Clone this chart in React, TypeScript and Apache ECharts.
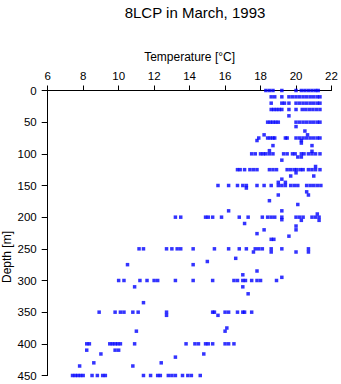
import React, { useEffect, useRef } from "react";
import * as echarts from "echarts";

const xTicks = [6, 8, 10, 12, 14, 16, 18, 20, 22];
const yTicks = [0, 50, 100, 150, 200, 250, 300, 350, 400, 450];

// temperatures observed at the standard depths (m)
const t0 = [18.3, 18.5, 18.7, 19.2, 20.0, 20.3, 20.5, 20.7, 20.9, 21.1, 21.25];
const t10 = [18.6, 18.8, 19.2, 19.6, 19.8, 20.0, 20.2, 20.4, 20.6, 20.8, 21.0, 21.2, 21.35];
const t20 = [18.6, 19.2, 19.35, 19.6, 20.0, 20.2, 20.4, 20.6, 20.8, 21.0, 21.2, 21.35];
const t30 = [18.6, 18.75, 18.9, 19.05, 19.2, 19.6, 20.0, 20.35, 20.55, 20.75, 20.95, 21.15, 21.35];
const t50 = [18.4, 18.55, 18.7, 18.85, 19.0, 20.0, 20.2, 20.4, 20.6, 20.8, 21.0, 21.2, 21.35];
const t75 = [17.9, 18.4, 18.55, 18.7, 18.8, 19.4, 19.5, 20.0, 20.2, 20.4, 20.6, 20.8, 21.0, 21.2, 21.35];
const t100 = [17.5, 17.7, 18.0, 18.15, 18.3, 18.5, 18.7, 19.3, 19.5, 19.8, 19.95, 20.3, 20.45, 20.7, 20.9, 21.1, 21.35];
const t125 = [16.7, 16.85, 17.1, 17.4, 17.6, 17.8, 18.5, 18.7, 18.9, 19.5, 19.7, 19.9, 20.05, 20.25, 20.4, 20.7, 20.9, 21.1, 21.35];
const t150 = [15.6, 16.2, 16.7, 17.0, 17.2, 17.8, 18.2, 18.6, 19.0, 19.2, 19.4, 19.7, 19.9, 20.1, 20.6, 20.8, 21.0, 21.2, 21.4];
const t200 = [13.2, 13.5, 14.9, 15.05, 15.3, 15.8, 16.8, 17.3, 18.1, 18.4, 18.6, 18.8, 19.2, 20.0, 20.2, 20.4, 20.9, 21.1, 21.3];
const t250 = [11.15, 11.4, 12.7, 13.0, 13.3, 13.5, 14.2, 15.4, 16.2, 16.8, 17.2, 17.7, 17.9, 18.1, 18.6, 19.2, 20.7];
const t300 = [10.0, 10.3, 11.2, 11.6, 12.0, 12.2, 13.2, 14.2, 15.3, 16.5, 16.7, 17.0, 17.15, 17.5, 17.8, 18.0, 18.9];
const t350 = [8.9, 9.8, 10.1, 10.3, 10.8, 11.1, 12.7, 15.3, 15.4, 16.0, 16.2, 16.7, 17.0, 17.1, 17.5];
const t400 = [8.2, 8.35, 9.5, 9.65, 9.8, 9.95, 10.1, 10.9, 13.8, 14.3, 14.5, 14.9, 15.05, 15.3, 16.0, 16.2, 16.5];
const t450 = [7.4, 7.55, 7.7, 7.85, 8.0, 8.5, 8.8, 9.1, 9.25, 11.4, 11.8, 12.2, 12.35, 12.8, 13.0, 13.2, 13.6, 13.9, 14.1, 14.6];

const standardDepths = [0, 10, 20, 30, 50, 75, 100, 125, 150, 200, 250, 300, 350, 400, 450];
const standardTemps = [t0, t10, t20, t30, t50, t75, t100, t125, t150, t200, t250, t300, t350, t400, t450];

// other observations: [temperature, depth]
const extraObs: [number, number][] = [
  [19.6, 40], [20.0, 57], [20.5, 64], [18.2, 70], [20.65, 70],
  [17.8, 79], [20.3, 79], [20.3, 83], [18.7, 87], [20.9, 87], [18.5, 95], [20.9, 96],
  [20.1, 105], [20.3, 105], [19.2, 110], [21.1, 120],
  [20.0, 130], [19.7, 135], [21.0, 135], [19.2, 140], [19.0, 145], [19.4, 145],
  [17.2, 154], [20.6, 160], [19.0, 165], [20.7, 165], [18.5, 174], [20.1, 180],
  [16.2, 190], [19.2, 190], [21.2, 195],
  [19.2, 204], [20.3, 205], [21.3, 205], [17.1, 210], [20.0, 214], [20.0, 220], [18.2, 220],
  [17.8, 226], [19.6, 230], [18.6, 235], [18.75, 235],
  [17.6, 255], [18.6, 255], [20.0, 255], [20.7, 255], [16.6, 265], [15.0, 270],
  [10.5, 275], [14.2, 275], [17.8, 285], [17.0, 291], [19.2, 295],
  [10.9, 310], [17.0, 310], [17.3, 321], [11.4, 335],
  [12.7, 355], [15.6, 355], [16.1, 375], [11.0, 380], [16.0, 380],
  [8.2, 410], [9.8, 410], [10.0, 410], [9.0, 416], [14.8, 416], [13.2, 421],
  [8.6, 430], [12.4, 430], [7.8, 435], [10.8, 435],
];

const FONT = "'Liberation Sans', Arial, Helvetica, sans-serif";

export default function App() {
  const ref = useRef<HTMLDivElement>(null);
  useEffect(() => {
    if (!ref.current) return;
    const chart = echarts.init(ref.current, null, { renderer: "svg" });
    const data: [number, number][] = [];
    standardDepths.forEach((d, i) => standardTemps[i].forEach((t) => data.push([t, d])));
    extraObs.forEach((p) => data.push(p));
    chart.setOption({
      animation: false,
      backgroundColor: "#ffffff",
      title: {
        text: "8LCP in March, 1993",
        left: 190,
        textAlign: "center",
        top: 0,
        textStyle: { fontFamily: FONT, fontSize: 15, fontWeight: "normal", color: "#000" },
      },
      grid: { left: 47.7, right: 9.5, top: 90.5, bottom: 8.5, containLabel: false },
      xAxis: {
        type: "value",
        position: "top",
        min: xTicks[0],
        max: xTicks[xTicks.length - 1],
        interval: 2,
        name: "Temperature [°C]",
        nameLocation: "middle",
        nameGap: 28,
        nameTextStyle: { fontFamily: FONT, fontSize: 12, color: "#000" },
        axisLine: { show: true, lineStyle: { color: "#000", width: 1 } },
        axisTick: { show: true, length: 5, lineStyle: { color: "#000" } },
        axisLabel: { fontFamily: FONT, fontSize: 11.5, color: "#000", margin: 9 },
        splitLine: { show: false },
      },
      yAxis: {
        type: "value",
        inverse: true,
        min: yTicks[0],
        max: yTicks[yTicks.length - 1],
        interval: 50,
        axisLine: { show: true, lineStyle: { color: "#000", width: 1 } },
        axisTick: { show: true, length: 6, lineStyle: { color: "#000" } },
        axisLabel: { fontFamily: FONT, fontSize: 11.5, color: "#000", margin: 11 },
        splitLine: { show: false },
      },
      graphic: [
        {
          type: "text",
          x: 6.5,
          y: 257,
          rotation: Math.PI / 2,
          style: {
            text: "Depth [m]",
            fontFamily: FONT,
            fontSize: 12,
            fill: "#000",
            textAlign: "center",
            textVerticalAlign: "middle",
          },
        },
      ],
      series: [
        {
          type: "scatter",
          data,
          symbol: "rect",
          symbolSize: 3.5,
          clip: false,
          itemStyle: { color: "#0000ff" },
        },
      ],
    });
    return () => chart.dispose();
  }, []);
  return <div ref={ref} style={{ width: 341, height: 384, position: "absolute", left: 0, top: 0 }} />;
}
